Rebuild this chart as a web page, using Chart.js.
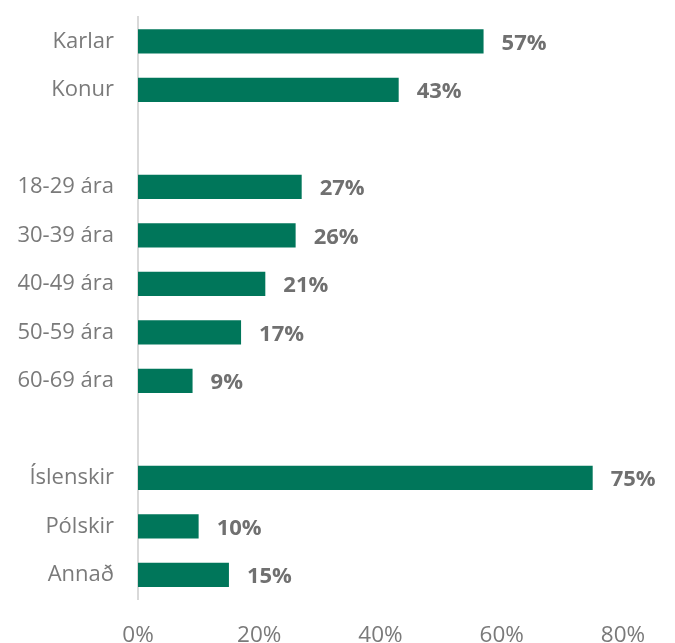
<!DOCTYPE html>
<html>
<head>
<meta charset="utf-8">
<script src="https://cdn.jsdelivr.net/npm/chart.js@4"></script>
<style>
  html, body { margin: 0; padding: 0; background: #fff; }
  #wrap { width: 675px; height: 643px; }
</style>
</head>
<body>
<div id="wrap"><canvas id="chart"></canvas></div>
<script>
// categories (empty strings are spacer rows between groups)
const categories = ["Karlar", "Konur", "", "18-29 ára", "30-39 ára", "40-49 ára", "50-59 ára", "60-69 ára", "", "Íslenskir", "Pólskir", "Annað"];
const shares = [57, 43, null, 27, 26, 21, 17, 9, null, 75, 10, 15];
const xTicks = [0, 20, 40, 60, 80];

const barGreen = "#00765a";
const fontFam = "'Open Sans', 'Noto Sans', sans-serif";

// draws the bold % labels at the end of each bar
const valueLabels = {
  id: "valueLabels",
  afterDatasetsDraw(chart) {
    const c = chart.ctx;
    const meta = chart.getDatasetMeta(0);
    c.save();
    c.font = "bold 22px " + fontFam;
    c.fillStyle = "#707070";
    c.textAlign = "left";
    c.textBaseline = "middle";
    meta.data.forEach((bar, i) => {
      if (shares[i] == null) return;
      c.fillText(shares[i] + "%", bar.x + 18, bar.y + 2);
    });
    c.restore();
  }
};

new Chart(document.getElementById("chart"), {
  type: "bar",
  data: {
    labels: categories,
    datasets: [{
      data: shares,
      backgroundColor: barGreen,
      barPercentage: 0.5,
      categoryPercentage: 1.0
    }]
  },
  options: {
    indexAxis: "y",
    responsive: true,
    maintainAspectRatio: false,
    animation: false,
    layout: { padding: { top: 17, right: 52, bottom: 0, left: 0 } },
    plugins: { legend: { display: false }, tooltip: { enabled: false } },
    scales: {
      x: {
        min: 0,
        max: 80,
        afterBuildTicks(scale) { scale.ticks = xTicks.map(v => ({ value: v })); },
        afterFit(scale) { scale.height = 44; scale.paddingLeft = 0; scale.paddingRight = 0; },
        grid: { display: false },
        border: { display: false },
        ticks: {
          padding: 15,
          color: "#7a7a7a",
          font: { family: fontFam, size: 22.5 },
          callback: v => v + "%"
        }
      },
      y: {
        afterFit(scale) { scale.width = 138; scale.paddingTop = 0; scale.paddingBottom = 0; },
        grid: { display: false },
        border: { display: true, color: "#d9d9d9", width: 2 },
        ticks: {
          padding: 16,
          color: "#7a7a7a",
          font: { family: fontFam, size: 22 }
        }
      }
    }
  },
  plugins: [valueLabels]
});
</script>
</body>
</html>
